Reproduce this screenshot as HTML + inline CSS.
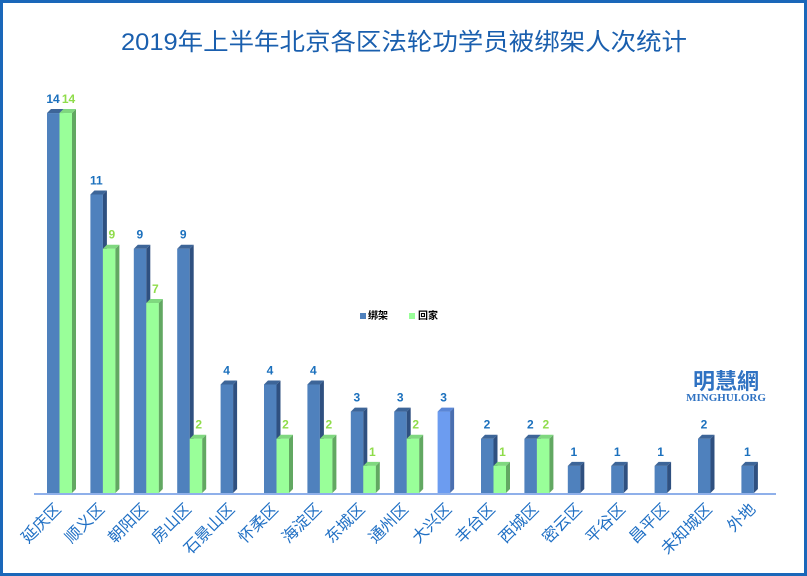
<!DOCTYPE html>
<html><head><meta charset="utf-8"><style>
html,body{margin:0;padding:0;background:#fff}
#c{position:relative;width:801px;height:570px;border:3px solid #1a67b9;overflow:hidden}
</style></head><body><div id="c">
<svg id="s" width="801" height="570" viewBox="3 3 801 570" xmlns="http://www.w3.org/2000/svg" style="font-family:'Liberation Sans','Noto Sans CJK SC',sans-serif">
<text x="404" y="50" text-anchor="middle" font-size="24" fill="#1a5fae" textLength="566" lengthAdjust="spacingAndGlyphs">2019年上半年北京各区法轮功学员被绑架人次统计</text>
<line x1="34" y1="494" x2="776" y2="494" stroke="#8fb0ea" stroke-width="2"/>
<rect x="360" y="313" width="6" height="6" fill="#4f81bd"/>
<text x="368" y="319" font-size="10" font-weight="bold" fill="#000">绑架</text>
<rect x="409" y="313" width="6" height="6" fill="#99ff99"/>
<text x="418" y="319" font-size="10" font-weight="bold" fill="#000">回家</text>
<text x="726" y="389" text-anchor="middle" font-size="22" font-weight="bold" fill="#2f72c2">明慧網</text>
<text x="726" y="401" text-anchor="middle" font-size="11" font-weight="bold" fill="#2f72c2" font-family="'Liberation Serif',serif">MINGHUI.ORG</text>
<g id="g"></g>
</svg></div>
<script>
var cats=["延庆区","顺义区","朝阳区","房山区","石景山区","怀柔区","海淀区","东城区","通州区","大兴区","丰台区","西城区","密云区","平谷区","昌平区","未知城区","外地"];
var b=[14,11,9,9,4,4,4,3,3,3,2,2,1,1,1,2,1];
var gr=[14,9,7,2,0,2,2,1,2,0,1,2,0,0,0,0,0];
var base=493,u=27.14,w=12.5,d=4,h="";
function bar(x,v,f,s,t){var y=base-v*u;
h+='<rect x="'+x+'" y="'+y+'" width="'+w+'" height="'+(v*u)+'" fill="'+f+'"/>';
h+='<polygon points="'+(x+w)+','+y+' '+(x+w+d)+','+(y-d)+' '+(x+w+d)+','+(base-d)+' '+(x+w)+','+base+'" fill="'+s+'"/>';
h+='<polygon points="'+x+','+y+' '+(x+d)+','+(y-d)+' '+(x+w+d)+','+(y-d)+' '+(x+w)+','+y+'" fill="'+t+'"/>';}
for(var i=0;i<17;i++){var x=47+i*43.4;
bar(x,b[i],i==9?"#6c9cf0":"#4f81bd",i==9?"#4a6fb0":"#2f5080",i==9?"#5a86d6":"#3d6598");
h+='<text x="'+(x+6)+'" y="'+(base-b[i]*u-10)+'" text-anchor="middle" font-size="12" font-weight="bold" fill="#1b70bd">'+b[i]+'</text>';
if(gr[i]){bar(x+w,gr[i],"#99ff99","#62a862","#7fd87f");
h+='<text x="'+(x+w+9)+'" y="'+(base-gr[i]*u-10)+'" text-anchor="middle" font-size="12" font-weight="bold" fill="#8fdc4a">'+gr[i]+'</text>';}
h+='<text transform="translate('+(x+15)+',510) rotate(-45)" text-anchor="end" font-size="16" fill="#1f6fc4">'+cats[i]+'</text>';}
document.getElementById("g").innerHTML=h;
</script></body></html>
